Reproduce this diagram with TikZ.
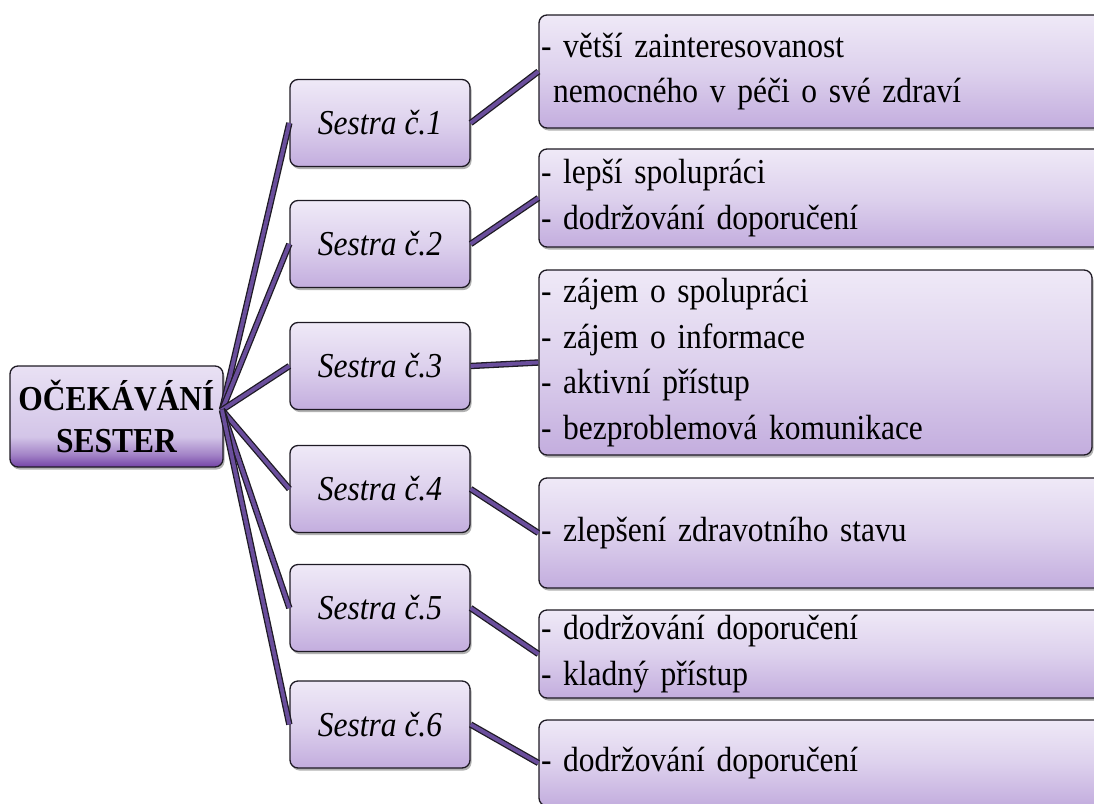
\documentclass[tikz,border=0pt]{standalone}
\usepackage{fontspec}
\setmainfont{Liberation Serif}[FakeStretch=0.9]
\usetikzlibrary{shadows}

\definecolor{boxtop}{HTML}{EFE9F7}
\definecolor{boxmid}{HTML}{DDD1ED}
\definecolor{boxbot}{HTML}{C3ADDE}
\definecolor{roottop}{HTML}{E9E1F4}
\definecolor{rootmid}{HTML}{D3C5E8}
\definecolor{rootlow}{HTML}{A282C6}
\definecolor{rootbot}{HTML}{7343A6}
\definecolor{connfill}{HTML}{6A4E9C}
\definecolor{edgeline}{HTML}{1E1A24}

% soft lilac gradient of the boxes, light at the top
\pgfdeclareverticalshading{lilac}{100bp}{%
  color(0bp)=(boxbot); color(25bp)=(boxbot); color(50bp)=(boxmid);
  color(75bp)=(boxtop); color(100bp)=(boxtop)}
% the central box darkens strongly towards its bottom edge
\pgfdeclareverticalshading{rootlilac}{100bp}{%
  color(0bp)=(rootbot); color(25bp)=(rootbot); color(31bp)=(rootlow);
  color(40bp)=(rootmid); color(75bp)=(roottop); color(100bp)=(roottop)}

\begin{document}
\begin{tikzpicture}[x=1pt, y=-1pt,
  basebox/.style={draw=edgeline, line width=1.3pt, rounded corners=8pt,
    drop shadow={shadow xshift=1.5pt, shadow yshift=-2.5pt, opacity=0.3, fill=black},
    inner sep=0pt},
  rootbox/.style={basebox, shading=rootlilac, minimum width=213pt, minimum height=101pt,
    align=center, font=\fontsize{35}{42}\selectfont\bfseries},
  nursebox/.style={basebox, shading=lilac, minimum width=180pt, minimum height=87pt,
    font=\fontsize{35}{40}\selectfont\itshape},
  itembox/.style={basebox, shading=lilac, inner xsep=2pt, text width=572pt,
    align=left, font=\fontsize{35}{45.5}\selectfont},
  link/.style={draw=edgeline, line width=1.3pt, double=connfill, double distance=3.8pt}]

\useasboundingbox (0,0) rectangle (1094,803);
\clip (0,0) rectangle (1094,803);

% centre of the fan
\node[rootbox] (root) at (116.5,416.5) {OČEKÁVÁNÍ\\SESTER};
\coordinate (hub) at (222,410);

% the six nurses
\node[nursebox] (s1) at (380,123)   {Sestra č.1};
\node[nursebox] (s2) at (380,244)   {Sestra č.2};
\node[nursebox] (s3) at (380,366)   {Sestra č.3};
\node[nursebox] (s4) at (380,489)   {Sestra č.4};
\node[nursebox] (s5) at (380,608)   {Sestra č.5};
\node[nursebox] (s6) at (380,724.5) {Sestra č.6};

% what each nurse expects
\node[itembox, minimum height=113pt] (r1) at (827,71.5)
  {- větší zainteresovanost\\\hspace*{12pt}nemocného v péči o své zdraví};
\node[itembox, minimum height=98pt] (r2) at (827,198)
  {- lepší spolupráci\\- dodržování doporučení};
\node[itembox, minimum height=185pt, text width=549pt] (r3) at (815.5,362.5)
  {- zájem o spolupráci\\- zájem o informace\\- aktivní přístup\\- bezproblemová komunikace};
\node[itembox, minimum height=110pt] (r4) at (827,533)
  {- zlepšení zdravotního stavu};
\node[itembox, minimum height=88pt] (r5) at (827,654)
  {- dodržování doporučení\\- kladný přístup};
\node[itembox, minimum height=86pt] (r6) at (827,763)
  {- dodržování doporučení};

% connectors
\foreach \i in {1,...,6} {
  \draw[link] (hub) -- (s\i.west);
  \draw[link] (s\i.east) -- (r\i.west);
}
\end{tikzpicture}
\end{document}
